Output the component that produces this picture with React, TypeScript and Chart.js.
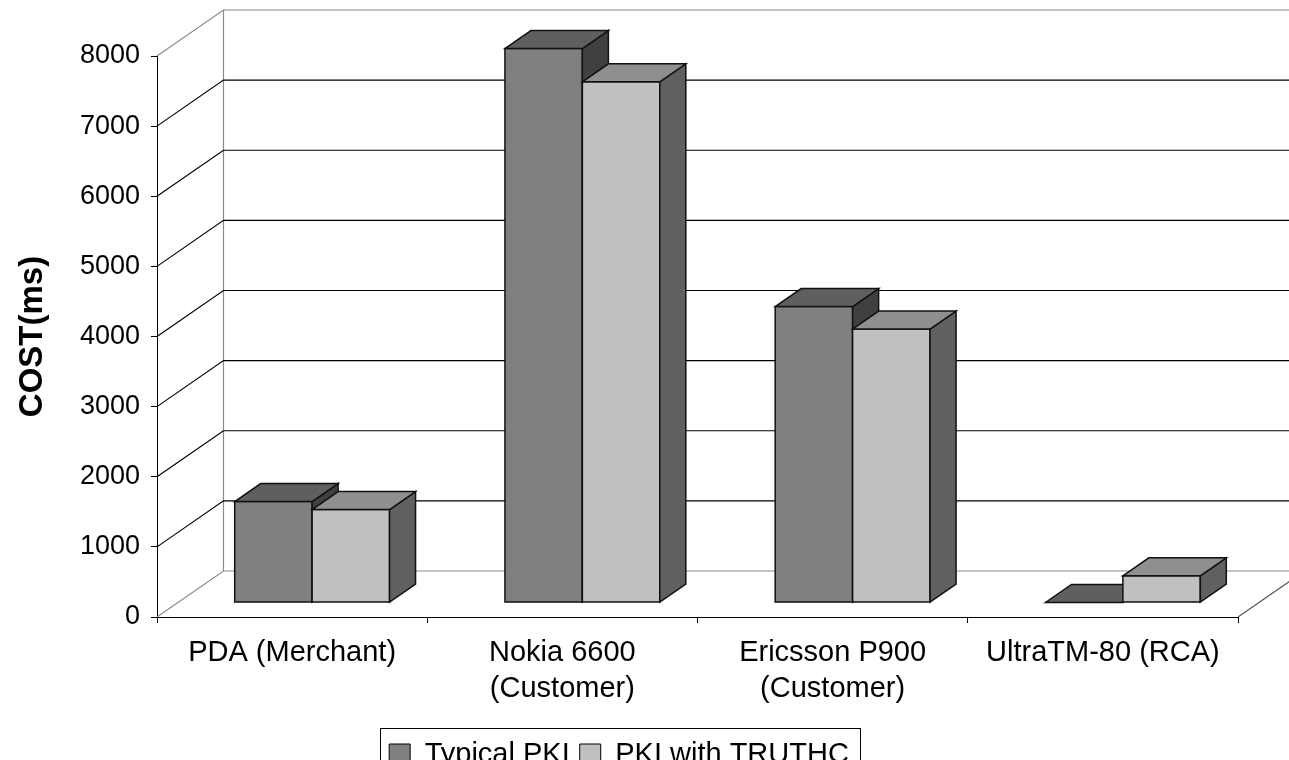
import React, { useEffect, useRef } from 'react';
import { Chart, registerables } from 'chart.js';

Chart.register(...registerables);

// ---- data ----
const categories: string[][] = [
  ['PDA (Merchant)'],
  ['Nokia 6600', '(Customer)'],
  ['Ericsson P900', '(Customer)'],
  ['UltraTM-80 (RCA)'],
];
const seriesNames: string[] = ['Typical PKI', 'PKI with TRUTHC'];
const typicalPKI: number[] = [1440, 7900, 4220, 0];
const pkiWithTruthc: number[] = [1325, 7425, 3900, 380];
const yMin = 0;
const yMax = 8000;
const yStep = 1000;
const yTitle = 'COST(ms)';

// ---- styles ----
const FONT = "'Liberation Sans', Arial, Helvetica, sans-serif";
const frontColors = ['#808080', '#c0c0c0'];
const topColors = ['#5f5f5f', '#8f8f8f'];
const sideColors = ['#404040', '#606060'];
const BAR_SHIFT = { x: 20, y: -14.5 };
const BAR_DEPTH = { x: 26, y: -18 };
const WALL_DEPTH = { x: 66.5, y: -46 };

const excel3d = {
  id: 'excel3d',
  beforeDatasetsDraw(chart: any) {
    const { ctx, chartArea } = chart;
    const ys = chart.scales.y;
    ctx.save();
    ctx.lineWidth = 1.2;
    const wx = chartArea.left + WALL_DEPTH.x;
    // left wall back vertical edge
    ctx.strokeStyle = '#8a8a8a';
    ctx.beginPath();
    ctx.moveTo(wx, ys.getPixelForValue(yMax) + WALL_DEPTH.y);
    ctx.lineTo(wx, ys.getPixelForValue(yMin) + WALL_DEPTH.y);
    ctx.stroke();
    // gridlines on side wall and back wall
    ys.ticks.forEach((t: any) => {
      const y = ys.getPixelForValue(t.value);
      const edge = t.value === yMin || t.value === yMax;
      ctx.strokeStyle = edge ? '#8a8a8a' : '#000';
      ctx.beginPath();
      ctx.moveTo(chartArea.left, y);
      ctx.lineTo(wx, y + WALL_DEPTH.y);
      ctx.lineTo(chart.width + 5, y + WALL_DEPTH.y);
      ctx.stroke();
    });
    // right floor edge
    ctx.strokeStyle = '#555';
    ctx.beginPath();
    ctx.moveTo(chartArea.right, chartArea.bottom);
    ctx.lineTo(chartArea.right + WALL_DEPTH.x, chartArea.bottom + WALL_DEPTH.y);
    ctx.stroke();

    // 3D bars
    const metas = chart.data.datasets.map((_: any, i: number) => chart.getDatasetMeta(i));
    const n = chart.data.labels.length;
    ctx.lineWidth = 1.5;
    ctx.strokeStyle = '#111';
    ctx.lineJoin = 'miter';
    for (let j = 0; j < n; j++) {
      metas.forEach((meta: any, di: number) => {
        const el = meta.data[j];
        if (!el) return;
        const l = el.x - el.width / 2 + BAR_SHIFT.x;
        const r = el.x + el.width / 2 + BAR_SHIFT.x;
        const top = Math.min(el.y, el.base) + BAR_SHIFT.y;
        const bot = Math.max(el.y, el.base) + BAR_SHIFT.y;
        const dx = BAR_DEPTH.x;
        const dy = BAR_DEPTH.y;
        if (bot - top > 0.5) {
          // front
          ctx.fillStyle = frontColors[di];
          ctx.beginPath();
          ctx.rect(l, top, r - l, bot - top);
          ctx.fill();
          ctx.stroke();
          // side
          ctx.fillStyle = sideColors[di];
          ctx.beginPath();
          ctx.moveTo(r, top);
          ctx.lineTo(r + dx, top + dy);
          ctx.lineTo(r + dx, bot + dy);
          ctx.lineTo(r, bot);
          ctx.closePath();
          ctx.fill();
          ctx.stroke();
        }
        // top
        ctx.fillStyle = topColors[di];
        ctx.beginPath();
        ctx.moveTo(l, top);
        ctx.lineTo(l + dx, top + dy);
        ctx.lineTo(r + dx, top + dy);
        ctx.lineTo(r, top);
        ctx.closePath();
        ctx.fill();
        ctx.stroke();
      });
    }
    ctx.restore();
    return false;
  },
  afterDraw(chart: any) {
    const lg = chart.legend;
    if (!lg || !lg.legendHitBoxes || !lg.legendHitBoxes.length) return;
    const boxes = lg.legendHitBoxes;
    const { ctx } = chart;
    const left = Math.min(...boxes.map((b: any) => b.left)) - 9;
    const right = Math.max(...boxes.map((b: any) => b.left + b.width)) + 11;
    const top = boxes[0].top - 12;
    const bottom = boxes[0].top + boxes[0].height + 12;
    ctx.save();
    ctx.strokeStyle = '#000';
    ctx.lineWidth = 1;
    ctx.strokeRect(Math.round(left) + 0.5, Math.round(top) + 0.5, Math.round(right - left), Math.round(bottom - top));
    ctx.restore();
  },
};

export default function App() {
  const canvasRef = useRef<HTMLCanvasElement | null>(null);

  useEffect(() => {
    const canvas = canvasRef.current;
    if (!canvas) return;
    const chart = new Chart(canvas, {
      type: 'bar',
      data: {
        labels: categories,
        datasets: [
          {
            label: seriesNames[0],
            data: typicalPKI,
            backgroundColor: frontColors[0],
            borderColor: '#000',
            borderWidth: 1,
            barPercentage: 1,
            categoryPercentage: 0.573,
          },
          {
            label: seriesNames[1],
            data: pkiWithTruthc,
            backgroundColor: frontColors[1],
            borderColor: '#000',
            borderWidth: 1,
            barPercentage: 1,
            categoryPercentage: 0.573,
          },
        ],
      },
      options: {
        responsive: false,
        animation: false,
        devicePixelRatio: 1,
        layout: { padding: { top: 56, right: 51, bottom: 21, left: 0 } },
        plugins: {
          tooltip: { enabled: false },
          legend: {
            display: true,
            position: 'bottom',
            labels: {
              font: { family: FONT, size: 29 },
              color: '#000',
              boxWidth: 21,
              boxHeight: 21,
              padding: 10,
            },
          },
        },
        scales: {
          x: {
            offset: true,
            afterFit: (s: any) => {
              s.height = 113;
            },
            grid: {
              display: true,
              drawOnChartArea: false,
              drawTicks: true,
              tickLength: 6,
              color: '#000',
              offset: true,
            },
            border: { display: true, color: '#000', width: 1 },
            ticks: {
              font: { family: FONT, size: 29, lineHeight: 1.25 },
              color: '#000',
              padding: 12,
              maxRotation: 0,
              autoSkip: false,
            },
          },
          y: {
            min: yMin,
            max: yMax,
            afterFit: (s: any) => {
              s.width = 157;
            },
            grid: {
              display: true,
              drawOnChartArea: false,
              drawTicks: true,
              tickLength: 6,
              color: '#000',
            },
            border: { display: true, color: '#000', width: 1 },
            ticks: {
              stepSize: yStep,
              font: { family: FONT, size: 27 },
              color: '#000',
              padding: 11,
              callback: (v: any) => String(v),
            },
            title: {
              display: true,
              text: yTitle,
              color: '#000',
              font: { family: FONT, size: 33, weight: 'bold' },
              padding: { top: 13, bottom: 0 },
            },
          },
        },
      },
      plugins: [excel3d],
    } as any);
    return () => chart.destroy();
  }, []);

  return (
    <div
      style={{
        position: 'fixed',
        left: 0,
        top: 0,
        width: 1289,
        height: 760,
        overflow: 'hidden',
        background: '#fff',
      }}
    >
      <canvas ref={canvasRef} width={1289} height={800} style={{ display: 'block', width: 1289, height: 800 }} />
    </div>
  );
}
